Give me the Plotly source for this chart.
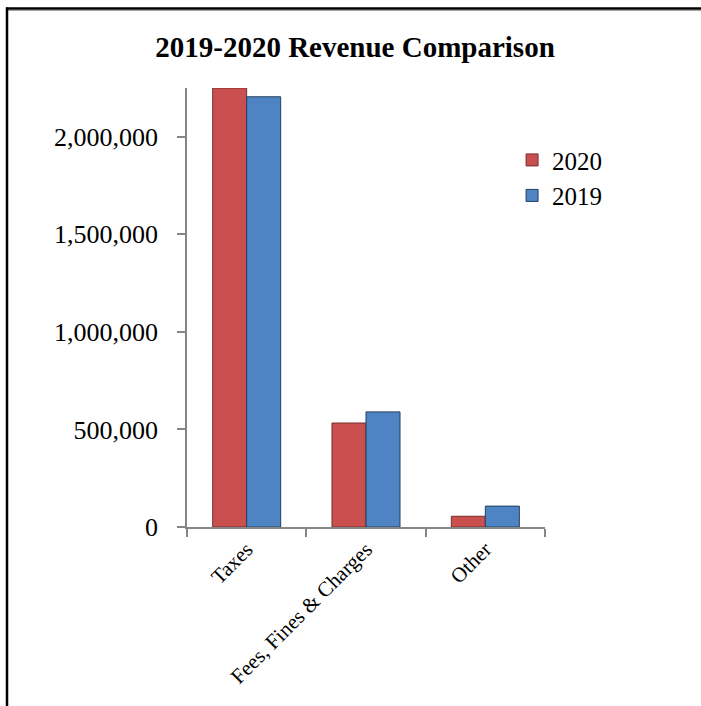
import plotly.graph_objects as go

# Revenue by source for each year
categories = ["Taxes", "Fees, Fines & Charges", "Other"]
revenue_2020 = [2250000, 533000, 55000]
revenue_2019 = [2205000, 590000, 107000]
y_ticks = [0, 500000, 1000000, 1500000, 2000000]

SERIF = "Liberation Serif"
AXIS_GRAY = "#868686"

fig = go.Figure()
fig.add_trace(go.Bar(
    name="2020", x=categories, y=revenue_2020,
    marker=dict(color="#C9504E", line=dict(color="#7A2E2C", width=1)),
))
fig.add_trace(go.Bar(
    name="2019", x=categories, y=revenue_2019,
    marker=dict(color="#4F84C4", line=dict(color="#23405F", width=1)),
))

fig.update_layout(
    width=701, height=706,
    margin=dict(l=187, r=156, t=88, b=179),
    paper_bgcolor="white", plot_bgcolor="white",
    barmode="group", bargap=0.43, bargroupgap=0,
    font=dict(family=SERIF, color="black"),
    title=dict(
        text="<b>2019-2020 Revenue Comparison</b>",
        x=355 / 701, xanchor="center", xref="container",
        y=1 - 47 / 706, yanchor="middle", yref="container",
        font=dict(size=29, family=SERIF, color="black"),
    ),
    showlegend=True,
    legend=dict(
        x=0.908, xanchor="left", y=0.888, yanchor="top",
        font=dict(size=25, family=SERIF, color="black"),
        bgcolor="rgba(0,0,0,0)", itemwidth=30,
    ),
    xaxis=dict(
        type="category", showline=True, linecolor=AXIS_GRAY, linewidth=1.5,
        ticks="outside", tickson="boundaries", ticklen=8, tickcolor=AXIS_GRAY,
        tickwidth=1.5, tickangle=-45, tickfont=dict(size=21, family=SERIF),
        showgrid=False, zeroline=False,
    ),
    yaxis=dict(
        range=[0, 2250000], tickvals=y_ticks, tickformat=",",
        showline=True, linecolor=AXIS_GRAY, linewidth=1.5,
        ticks="outside", ticklen=8, tickcolor=AXIS_GRAY, tickwidth=1.5,
        ticklabelstandoff=14, tickfont=dict(size=26, family=SERIF),
        showgrid=False, zeroline=False,
    ),
)

# Frame lines along the top and left of the chart area
plot_w, plot_h = 358, 439
def px_x(px):
    return (px - 187) / plot_w
def px_y(py):
    return (527 - py) / plot_h

fig.add_shape(type="line", xref="paper", yref="paper",
              x0=px_x(6), x1=px_x(702), y0=px_y(8.5), y1=px_y(8.5),
              line=dict(color="black", width=2.5))
fig.add_shape(type="line", xref="paper", yref="paper",
              x0=px_x(8), x1=px_x(702), y0=px_y(10.5), y1=px_y(10.5),
              line=dict(color="#A0A0A0", width=1))
fig.add_shape(type="line", xref="paper", yref="paper",
              x0=px_x(7), x1=px_x(7), y0=px_y(7.5), y1=px_y(707),
              line=dict(color="black", width=2.5))

fig.write_html("out.html")
